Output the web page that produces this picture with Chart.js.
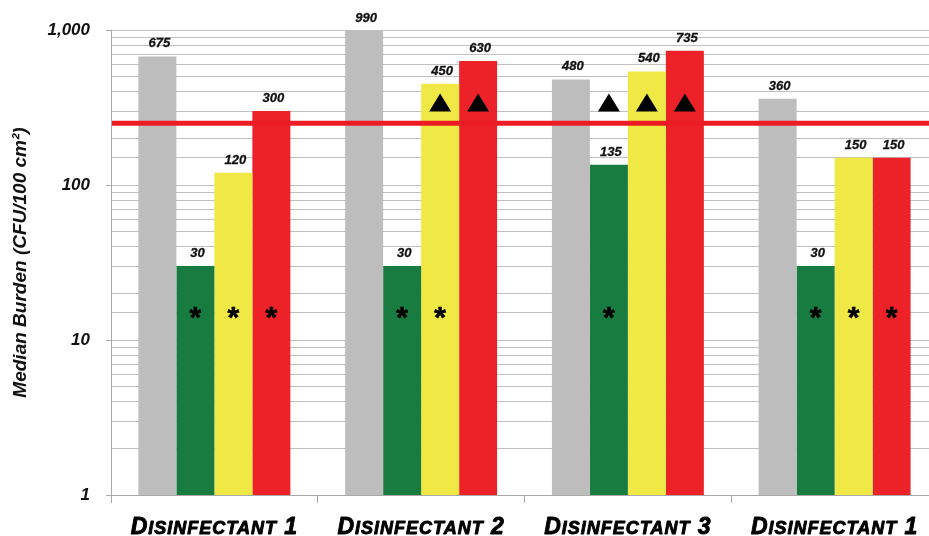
<!DOCTYPE html>
<html>
<head>
<meta charset="utf-8">
<script src="https://cdn.jsdelivr.net/npm/chart.js@4.4.1/dist/chart.umd.min.js"></script>
<style>
  html, body { margin: 0; padding: 0; background: #ffffff; overflow: hidden; }
  #wrap { width: 940px; height: 536px; }
</style>
</head>
<body>
<div id="wrap"><canvas id="chart" width="940" height="536"></canvas></div>
<script>
// Categories along the x axis
const categories = ['DISINFECTANT 1', 'DISINFECTANT 2', 'DISINFECTANT 3', 'DISINFECTANT 1'];

// Median burden per group (CFU/100 cm²)
const greySeries   = [675, 990, 480, 360];
const greenSeries  = [30, 30, 135, 30];
const yellowSeries = [120, 450, 540, 150];
const redSeries    = [300, 630, 735, 150];

// Significance markers per series (1 = shown)
const asteriskGrey   = [0, 0, 0, 0];
const asteriskGreen  = [1, 1, 1, 1];
const asteriskYellow = [1, 1, 0, 1];
const asteriskRed    = [1, 0, 0, 1];
const triangleGrey   = [0, 0, 0, 0];
const triangleGreen  = [0, 0, 1, 0];
const triangleYellow = [0, 1, 1, 0];
const triangleRed    = [0, 1, 1, 0];

// Levels at which the markers sit, and the reference threshold
const asteriskLevel = 15;
const triangleLevel = 340;
const thresholdValue = 250;

// Y axis range and labelled ticks
const yMin = 1;
const yMax = 1000;
const yTickLabels = [1, 10, 100, 1000];

const colors = ['#bdbdbd', '#187c40', '#f0e845', '#ec2228'];

const asteriskSets = [asteriskGrey, asteriskGreen, asteriskYellow, asteriskRed];
const triangleSets = [triangleGrey, triangleGreen, triangleYellow, triangleRed];

const FONT = '"Liberation Sans", Arial, Helvetica, sans-serif';

const overlayPlugin = {
  id: 'overlay',
  afterDatasetsDraw(chart) {
    const ctx = chart.ctx;
    const y = chart.scales.y;
    const area = chart.chartArea;

    // threshold line
    const ty = y.getPixelForValue(thresholdValue);
    ctx.save();
    ctx.strokeStyle = '#ec1c24';
    ctx.lineWidth = 5;
    ctx.beginPath();
    ctx.moveTo(area.left + 1, ty);
    ctx.lineTo(area.right, ty);
    ctx.stroke();
    ctx.restore();

    chart.data.datasets.forEach((ds, di) => {
      const meta = chart.getDatasetMeta(di);
      meta.data.forEach((bar, i) => {
        // value label
        ctx.save();
        ctx.font = 'italic bold 13px ' + FONT;
        ctx.fillStyle = '#111111';
        ctx.strokeStyle = '#111111';
        ctx.lineWidth = 0.3;
        ctx.textAlign = 'center';
        ctx.textBaseline = 'alphabetic';
        ctx.fillText(String(ds.data[i]), bar.x + 2, bar.y - 9);
        ctx.strokeText(String(ds.data[i]), bar.x + 2, bar.y - 9);
        ctx.restore();

        // asterisk
        if (asteriskSets[di][i]) {
          const ay = y.getPixelForValue(asteriskLevel);
          ctx.save();
          ctx.font = 'bold 30px ' + FONT;
          ctx.fillStyle = '#000000';
          ctx.strokeStyle = '#000000';
          ctx.lineWidth = 0.6;
          ctx.textAlign = 'center';
          ctx.textBaseline = 'alphabetic';
          const m = ctx.measureText('*');
          const mid = (m.actualBoundingBoxAscent - m.actualBoundingBoxDescent) / 2;
          ctx.fillText('*', bar.x, ay + mid);
          ctx.strokeText('*', bar.x, ay + mid);
          ctx.restore();
        }

        // triangle
        if (triangleSets[di][i]) {
          const cy = y.getPixelForValue(triangleLevel);
          ctx.save();
          ctx.fillStyle = '#000000';
          ctx.beginPath();
          ctx.moveTo(bar.x, cy - 9);
          ctx.lineTo(bar.x + 11, cy + 9);
          ctx.lineTo(bar.x - 11, cy + 9);
          ctx.closePath();
          ctx.fill();
          ctx.restore();
        }
      });
    });

    // category labels in small caps
    const x = chart.scales.x;
    chart.data.labels.forEach((label, i) => {
      const cx = x.getPixelForValue(i);
      const first = label.charAt(0);
      const rest = label.slice(1);
      const parts = [];
      parts.push({ t: first, size: 23 });
      const m = rest.match(/^([A-Z]+)(\s+)(\S+)$/);
      if (m) {
        parts.push({ t: m[1], size: 18 });
        parts.push({ t: m[2], size: 23 });
        parts.push({ t: m[3], size: 23 });
      } else {
        parts.push({ t: rest, size: 18 });
      }
      ctx.save();
      ctx.fillStyle = '#000000';
      ctx.strokeStyle = '#000000';
      ctx.lineWidth = 0.9;
      ctx.lineJoin = 'round';
      ctx.textBaseline = 'alphabetic';
      ctx.textAlign = 'left';
      ctx.letterSpacing = '1px';
      let total = 0;
      parts.forEach(p => {
        ctx.font = 'italic bold ' + p.size + 'px ' + FONT;
        p.w = ctx.measureText(p.t).width;
        total += p.w;
      });
      let px = cx - total / 2;
      parts.forEach(p => {
        ctx.font = 'italic bold ' + p.size + 'px ' + FONT;
        ctx.fillText(p.t, px, 534);
        ctx.strokeText(p.t, px, 534);
        px += p.w;
      });
      ctx.restore();
    });
  }
};

const isMajor = v => yTickLabels.includes(v);

new Chart(document.getElementById('chart'), {
  type: 'bar',
  data: {
    labels: categories,
    datasets: [
      { label: 'Series 1', data: greySeries,   backgroundColor: colors[0] },
      { label: 'Series 2', data: greenSeries,  backgroundColor: colors[1] },
      { label: 'Series 3', data: yellowSeries, backgroundColor: colors[2] },
      { label: 'Series 4', data: redSeries,    backgroundColor: colors[3] }
    ]
  },
  options: {
    responsive: false,
    animation: false,
    devicePixelRatio: 1,
    layout: { padding: { top: 30, right: 2, bottom: 0, left: 0 } },
    datasets: { bar: { categoryPercentage: 0.735, barPercentage: 1.0, borderWidth: 0 } },
    plugins: {
      legend: { display: false },
      tooltip: { enabled: false }
    },
    scales: {
      x: {
        offset: true,
        grid: {
          offset: true,
          drawOnChartArea: false,
          drawTicks: true,
          tickLength: 8,
          color: '#a8a8a8'
        },
        border: { color: '#a8a8a8', width: 1 },
        ticks: { display: false },
        afterFit: s => { s.height = 41; }
      },
      y: {
        type: 'logarithmic',
        min: yMin,
        max: yMax,
        grid: {
          color: '#c0c0c0',
          lineWidth: 1,
          drawTicks: true,
          tickLength: 5,
          tickColor: c => (c.tick && isMajor(c.tick.value)) ? '#a8a8a8' : 'rgba(0,0,0,0)'
        },
        border: { color: '#a8a8a8', width: 1 },
        ticks: {
          autoSkip: false,
          padding: 16,
          color: '#111111',
          font: { family: FONT, size: 17, weight: 'bold', style: 'italic' },
          callback: v => isMajor(v) ? Number(v).toLocaleString('en-US') : ''
        },
        title: {
          display: true,
          text: 'Median Burden (CFU/100 cm²)',
          color: '#111111',
          font: { family: FONT, size: 19, weight: 'bold', style: 'italic' },
          padding: { top: 9, bottom: 0 }
        },
        afterFit: s => { s.width = 111; }
      }
    }
  },
  plugins: [overlayPlugin]
});
</script>
</body>
</html>
